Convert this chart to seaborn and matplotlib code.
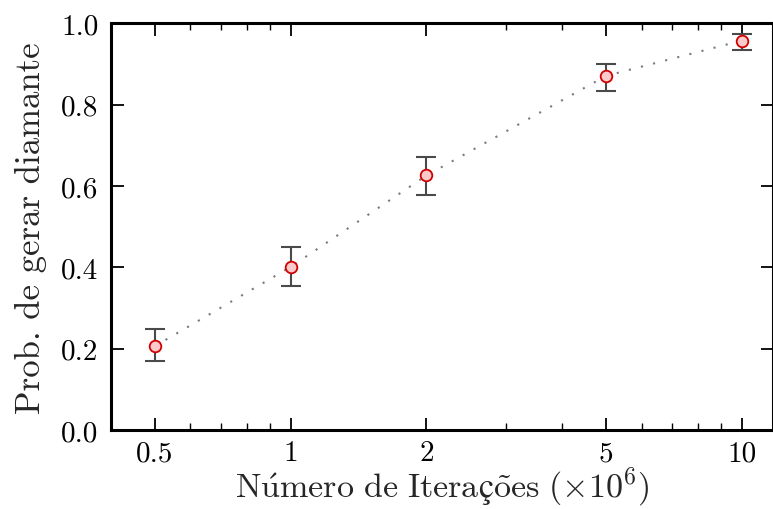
import numpy as np
import pandas as pd
import seaborn as sns
import matplotlib.pyplot as plt
from matplotlib.ticker import FixedLocator, FixedFormatter, NullFormatter

# data
iteracoes = [0.5, 1, 2, 5, 10]
prob = [0.206, 0.401, 0.626, 0.871, 0.958]
erro_sup = [0.042, 0.048, 0.046, 0.029, 0.017]
erro_inf = [0.037, 0.046, 0.049, 0.036, 0.024]
xtick_labels = ['0.5', '1', '2', '5', '10']

df = pd.DataFrame({'iter': iteracoes, 'prob': prob})

sns.set_theme(style='ticks')
plt.rcParams['font.family'] = ['cmr10', 'Liberation Serif']
plt.rcParams['mathtext.fontset'] = 'cm'
plt.rcParams['axes.formatter.use_mathtext'] = True

fig = plt.figure(figsize=(7.73, 5.10), dpi=100)
ax = fig.add_axes([0.1436, 0.155, 0.857, 0.797])

sns.lineplot(data=df, x='iter', y='prob', ax=ax, color='#7a7a7a',
             linestyle=(0, (1, 5)), linewidth=1.5, zorder=1)
ax.errorbar(df['iter'], df['prob'], yerr=[erro_inf, erro_sup], fmt='none',
            ecolor='#4a4a4a', elinewidth=1.5, capsize=7, capthick=1.5, zorder=2)
sns.scatterplot(data=df, x='iter', y='prob', ax=ax, marker='o', s=70,
                color='#fbcaca', edgecolor='#d00000', linewidth=1.3, zorder=3)

ax.set_xscale('log')
ax.set_xlim(0.4, 11.75)
ax.set_ylim(0, 1)
ax.xaxis.set_major_locator(FixedLocator(iteracoes))
ax.xaxis.set_major_formatter(FixedFormatter(xtick_labels))
ax.xaxis.set_minor_formatter(NullFormatter())
ax.set_yticks([0, 0.2, 0.4, 0.6, 0.8, 1.0])
ax.set_yticklabels(['0.0', '0.2', '0.4', '0.6', '0.8', '1.0'])

ax.tick_params(which='both', direction='in', top=True, right=True,
               labelsize=21, colors='black', pad=9)
ax.tick_params(axis='x', which='major', pad=7)
ax.tick_params(which='major', length=9, width=1.3)
ax.tick_params(which='minor', length=5, width=1.0)
for s in ax.spines.values():
    s.set_linewidth(2.2)
    s.set_color('black')

xlabel = r'$\mathrm{N\acute{u}mero\ de\ Itera' + 'ç' + r'\tilde{o}es\ (\times 10^6)}$'
ax.set_xlabel(xlabel, fontsize=24.5, labelpad=-1)
ax.set_ylabel('Prob. de gerar diamante', fontsize=25, labelpad=10)

fig.savefig('out.png', dpi=100)
